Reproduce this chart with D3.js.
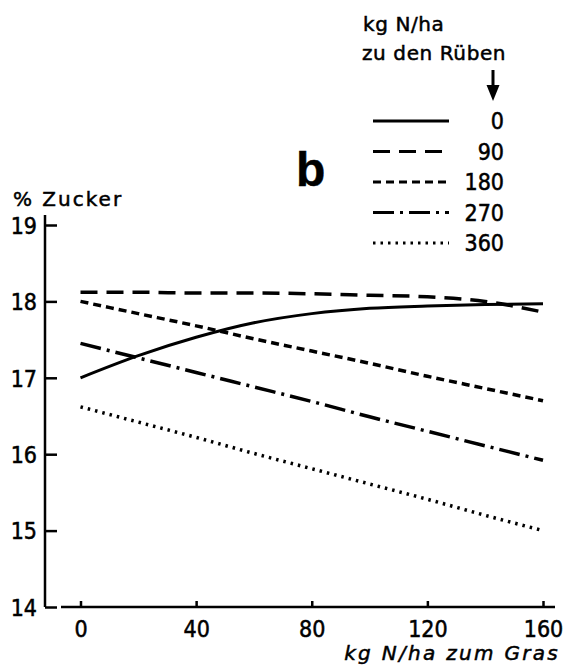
<!DOCTYPE html>
<html>
<head>
<meta charset="utf-8">
<script src="https://cdn.jsdelivr.net/npm/d3@7"></script>
<style>
  body { margin: 0; background: #fff; }
  svg { display: block; }
  text { fill: #000; stroke: #000; stroke-width: 0.5px; }
  .num { font-family: "Liberation Sans Narrow", "DejaVu Sans Condensed", sans-serif; font-size: 23px; }
  .word { font-family: "DejaVu Sans", sans-serif; font-size: 20px; letter-spacing: 0.6px; }
</style>
</head>
<body>
<div id="chart"></div>
<script>
// x: kg N/ha zum Gras, y: % Zucker, one series per N dose to the beets
const kgGras = [0, 20, 40, 60, 80, 100, 120, 140, 160];
const zucker0 = [17.00, 17.29, 17.53, 17.72, 17.84, 17.91, 17.94, 17.96, 17.97];
const zucker90 = [18.12, 18.12, 18.11, 18.11, 18.10, 18.08, 18.06, 18.00, 17.86];
const zucker180 = [18.00, 17.84, 17.68, 17.51, 17.35, 17.19, 17.02, 16.86, 16.70];
const zucker270 = [17.45, 17.26, 17.07, 16.88, 16.69, 16.49, 16.30, 16.11, 15.92];
const zucker360 = [16.62, 16.42, 16.22, 16.01, 15.81, 15.61, 15.41, 15.20, 15.00];

const rubenN = ['0', '90', '180', '270', '360'];
const xTicks = [0, 40, 80, 120, 160];
const yTicks = [14, 15, 16, 17, 18, 19];

const dashes = ['none', '17,9', '8,5', '21,6,3,6', '2.5,5'];

const width = 571, height = 668;

const svg = d3.select('#chart').append('svg')
  .attr('width', width)
  .attr('height', height);

const x = d3.scaleLinear().domain([0, 160]).range([80.5, 543]);
const y = d3.scaleLinear().domain([14, 19]).range([607, 225]);

// y axis (ticks point into the plot)
const yAxis = svg.append('g')
  .attr('transform', 'translate(45,0)')
  .call(d3.axisLeft(y).tickValues(yTicks).tickSizeInner(-12).tickSizeOuter(0).tickPadding(8).tickFormat(d3.format('d')));
yAxis.select('.domain').remove();
yAxis.selectAll('.tick line').attr('stroke', '#000').attr('stroke-width', 2.5);
yAxis.selectAll('.tick text').attr('class', 'num').attr('fill', '#000').attr('dy', '0.36em');
svg.append('line')
  .attr('x1', 45).attr('x2', 45)
  .attr('y1', y(19) - 10).attr('y2', y(14))
  .attr('stroke', '#000').attr('stroke-width', 2.5);

// x axis (ticks point up)
const xAxis = svg.append('g')
  .attr('transform', `translate(0,${y(14)})`)
  .call(d3.axisBottom(x).tickValues(xTicks).tickSizeInner(-6).tickSizeOuter(0).tickPadding(14).tickFormat(d3.format('d')));
xAxis.select('.domain').remove();
xAxis.selectAll('.tick line').attr('stroke', '#000').attr('stroke-width', 2.5);
xAxis.selectAll('.tick text').attr('class', 'num').attr('fill', '#000');
svg.append('line')
  .attr('x1', 61).attr('x2', 555)
  .attr('y1', y(14)).attr('y2', y(14))
  .attr('stroke', '#000').attr('stroke-width', 2.5);

// axis titles
svg.append('text')
  .attr('class', 'word')
  .attr('x', 13).attr('y', 206)
  .style('letter-spacing', '2px')
  .text('% Zucker');

svg.append('text')
  .attr('class', 'word')
  .attr('x', 560).attr('y', 660)
  .attr('text-anchor', 'end')
  .style('font-style', 'italic')
  .style('letter-spacing', '2.3px')
  .text('kg N/ha zum Gras');

// panel letter
svg.append('text')
  .attr('x', 296).attr('y', 186)
  .style('font-family', '"Liberation Sans", Arial, sans-serif')
  .style('font-weight', 'bold')
  .style('font-size', '48px')
  .text('b');

// series
const series = [zucker0, zucker90, zucker180, zucker270, zucker360];
const line = d3.line()
  .x((d, i) => x(kgGras[i]))
  .y((d) => y(d))
  .curve(d3.curveMonotoneX);

series.forEach((s, i) => {
  svg.append('path')
    .datum(s)
    .attr('d', line)
    .attr('fill', 'none')
    .attr('stroke', '#000')
    .attr('stroke-width', i === 0 ? 3 : 3.5)
    .attr('stroke-dasharray', dashes[i]);
});

// legend
svg.append('text')
  .attr('class', 'word')
  .attr('x', 363).attr('y', 31)
  .text('kg N/ha');
svg.append('text')
  .attr('class', 'word')
  .attr('x', 362).attr('y', 60)
  .text('zu den Rüben');

svg.append('line')
  .attr('x1', 493).attr('x2', 493)
  .attr('y1', 70).attr('y2', 88)
  .attr('stroke', '#000').attr('stroke-width', 3);
svg.append('path')
  .attr('d', 'M486.5,85 L499.5,85 L493,101 Z')
  .attr('fill', '#000');

const legendY = d3.scalePoint().domain(rubenN).range([121, 243]);

rubenN.forEach((n, i) => {
  svg.append('line')
    .attr('x1', 373).attr('x2', 449)
    .attr('y1', legendY(n)).attr('y2', legendY(n))
    .attr('stroke', '#000')
    .attr('stroke-width', 3)
    .attr('stroke-dasharray', dashes[i]);
  svg.append('text')
    .attr('class', 'num')
    .attr('x', 504).attr('y', legendY(n))
    .attr('dy', '0.36em')
    .attr('text-anchor', 'end')
    .text(n);
});
</script>
</body>
</html>
